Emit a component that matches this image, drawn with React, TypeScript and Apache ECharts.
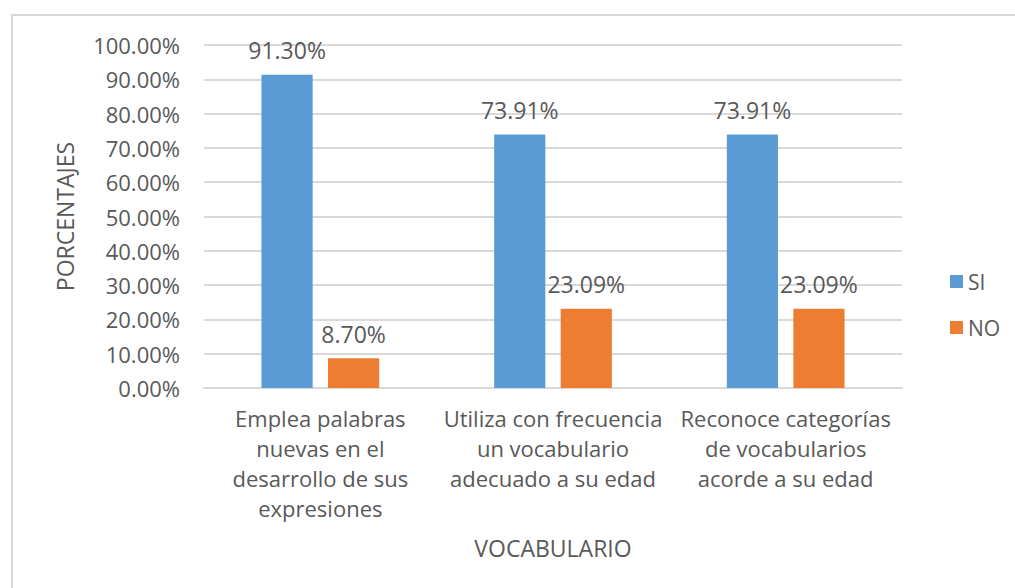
import React, { useEffect, useRef } from "react";
import * as echarts from "echarts";

const categories = [
  "Emplea palabras\nnuevas en el\ndesarrollo de sus\nexpresiones",
  "Utiliza con frecuencia\nun vocabulario\nadecuado a su edad",
  "Reconoce categorías\nde vocabularios\nacorde a su edad",
];
const siValues = [91.3, 73.91, 73.91];
const noValues = [8.7, 23.09, 23.09];
const seriesNames = ["SI", "NO"];
const yAxisName = "PORCENTAJES";
const xAxisName = "VOCABULARIO";

const FONT = "'Open Sans', 'Noto Sans', sans-serif";
const TEXT = "#595959";

export default function App() {
  const ref = useRef<HTMLDivElement>(null);
  useEffect(() => {
    document.body.style.margin = "0";
    const chart = echarts.init(ref.current!, null, { renderer: "svg" });
    const label = {
      show: true,
      position: "top" as const,
      distance: 13,
      color: TEXT,
      fontFamily: FONT,
      fontSize: 23,
      formatter: (p: any) => Number(p.value).toFixed(2) + "%",
    };
    chart.setOption({
      animation: false,
      backgroundColor: "#fff",
      textStyle: { fontFamily: FONT, color: TEXT },
      graphic: [
        {
          type: "rect",
          shape: { x: 12, y: 15, width: 1020, height: 600 },
          style: { fill: "none", stroke: "#D9D9D9", lineWidth: 2 },
          silent: true,
        },
      ],
      grid: { left: 204, right: 113, top: 45, bottom: 200 },
      legend: {
        orient: "vertical",
        left: 945,
        top: 266,
        itemWidth: 13,
        itemHeight: 13,
        itemGap: 25,
        icon: "rect",
        textStyle: { color: TEXT, fontFamily: FONT, fontSize: 21 },
        data: seriesNames,
      },
      xAxis: {
        type: "category",
        data: categories,
        name: xAxisName,
        nameLocation: "middle",
        nameGap: 148,
        nameTextStyle: { color: TEXT, fontFamily: FONT, fontSize: 23 },
        axisLine: { lineStyle: { color: "#D9D9D9", width: 2 } },
        axisTick: { show: false },
        axisLabel: {
          color: TEXT,
          fontFamily: FONT,
          fontSize: 22,
          lineHeight: 30,
          margin: 15,
          interval: 0,
        },
      },
      yAxis: {
        type: "value",
        min: 0,
        max: 100,
        interval: 10,
        name: yAxisName,
        nameLocation: "middle",
        nameGap: 128,
        nameRotate: 90,
        nameTextStyle: { color: TEXT, fontFamily: FONT, fontSize: 23 },
        axisLine: { show: false },
        axisTick: { show: false },
        splitLine: { lineStyle: { color: "#D9D9D9", width: 2 } },
        axisLabel: {
          color: TEXT,
          fontFamily: FONT,
          fontSize: 22,
          margin: 24,
          formatter: (v: number) => v.toFixed(2) + "%",
        },
      },
      series: [
        {
          name: seriesNames[0],
          type: "bar",
          data: siValues,
          barWidth: "22%",
          barGap: "30%",
          itemStyle: { color: "#5B9BD5" },
          label,
        },
        {
          name: seriesNames[1],
          type: "bar",
          data: noValues,
          barWidth: "22%",
          itemStyle: { color: "#ED7D31" },
          label,
        },
      ],
    });
    return () => chart.dispose();
  }, []);
  return (
    <div
      ref={ref}
      style={{ position: "fixed", left: 0, top: 0, width: 1015, height: 588 }}
    />
  );
}
